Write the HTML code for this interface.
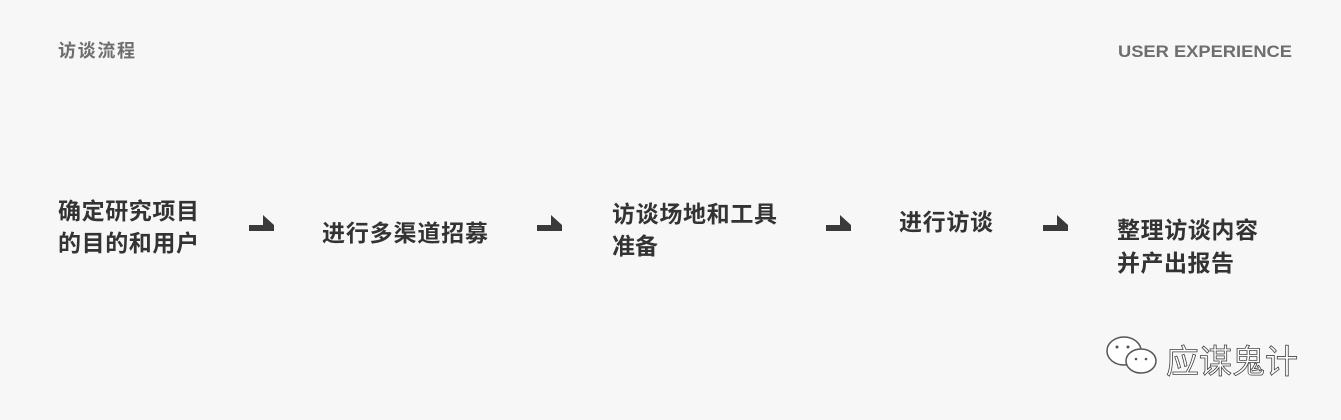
<!DOCTYPE html>
<html><head><meta charset="utf-8"><style>
html,body{margin:0;padding:0;background:#f7f7f7;}
svg{display:block}
text{font-family:"Liberation Sans","Noto Sans CJK SC",sans-serif;}
</style></head><body>
<svg width="1341" height="420" viewBox="0 0 1341 420" xmlns="http://www.w3.org/2000/svg">
<rect width="1341" height="420" fill="#f7f7f7"/>
<text x="58" y="57" font-size="18" font-weight="bold" fill="#6e6e6e" textLength="77">访谈流程</text>
<text x="1118" y="57" font-size="17" font-weight="bold" fill="#6e6e6e" textLength="174" lengthAdjust="spacingAndGlyphs">USER EXPERIENCE</text>
<g font-size="23" font-weight="bold" fill="#333">
<text x="58" y="219" textLength="141">确定研究项目</text>
<text x="58" y="251" textLength="141">的目的和用户</text>
<text x="322" y="241" textLength="166">进行多渠道招募</text>
<text x="612" y="222" textLength="165">访谈场地和工具</text>
<text x="612" y="254">准备</text>
<text x="899" y="230" textLength="94">进行访谈</text>
<text x="1117" y="238" textLength="141">整理访谈内容</text>
<text x="1117" y="271" textLength="117">并产出报告</text>
</g>
<g fill="#3a3a3a">
<path d="M249 225 H263 V215 L274 225 V231 H249 Z"/>
<path d="M537 225 H551 V215 L562 225 V231 H537 Z"/>
<path d="M826 225 H840 V215 L851 225 V231 H826 Z"/>
<path d="M1043 225 H1057 V215 L1068 225 V231 H1043 Z"/>
</g>
<g fill="#fff" stroke="#555" stroke-width="1.5">
<ellipse cx="1124" cy="351" rx="17" ry="14"/>
<ellipse cx="1141" cy="361" rx="15" ry="12"/>
</g>
<g fill="#555"><circle cx="1117" cy="347" r="1.5"/><circle cx="1128" cy="347" r="1.5"/><circle cx="1136" cy="359" r="1.3"/><circle cx="1146" cy="359" r="1.3"/></g>
<text x="1166" y="373" font-size="33" fill="#fff" stroke="#444" stroke-width="0.8">应谋鬼计</text>
</svg>
</body></html>
